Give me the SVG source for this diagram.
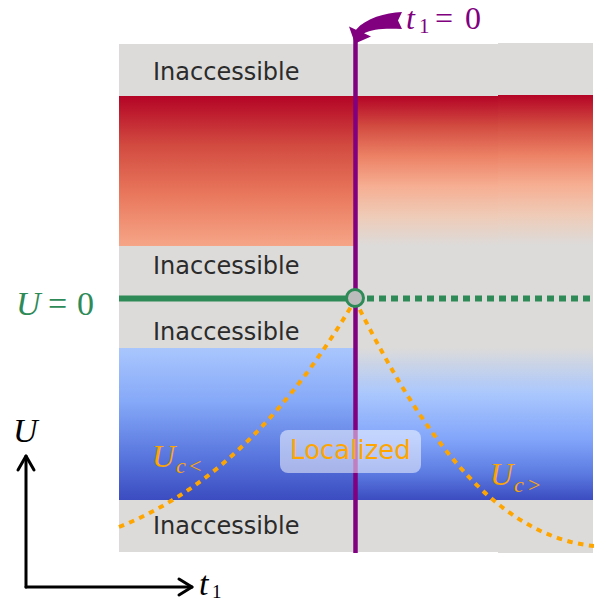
<svg xmlns="http://www.w3.org/2000/svg" width="594" height="603" viewBox="0 0 594 603">
<defs>
<linearGradient id="redL" x1="0" y1="0" x2="0" y2="1">
<stop offset="0" stop-color="#b40426"/>
<stop offset="0.33" stop-color="#d24b40"/>
<stop offset="0.66" stop-color="#e9785d"/>
<stop offset="1" stop-color="#f6a587"/>
</linearGradient>
<linearGradient id="redR" x1="0" y1="0" x2="0" y2="1">
<stop offset="0" stop-color="#b40426"/>
<stop offset="0.2" stop-color="#d24b40"/>
<stop offset="0.4" stop-color="#ec8165"/>
<stop offset="0.6" stop-color="#f6ae92"/>
<stop offset="0.8" stop-color="#efcbb7"/>
<stop offset="1" stop-color="#dcdbda"/>
</linearGradient>
<linearGradient id="blueL" x1="0" y1="0" x2="0" y2="1">
<stop offset="0" stop-color="#a9c6fd"/>
<stop offset="0.35" stop-color="#86a9f8"/>
<stop offset="0.7" stop-color="#5a78df"/>
<stop offset="1" stop-color="#3b4cc0"/>
</linearGradient>
<linearGradient id="blueR" x1="0" y1="0" x2="0" y2="1">
<stop offset="0" stop-color="#dcdbda"/>
<stop offset="0.3" stop-color="#aac7fd"/>
<stop offset="0.6" stop-color="#82a5fa"/>
<stop offset="0.82" stop-color="#5d7ce2"/>
<stop offset="1" stop-color="#3b4cc0"/>
</linearGradient>
</defs>
<style>
.inacc{font-family:"DejaVu Sans",sans-serif;font-size:24px;fill:#2b2b2b}
.math{font-family:"Liberation Serif","DejaVu Serif",serif;font-style:italic}
.num{font-family:"Liberation Serif","DejaVu Serif",serif;font-style:normal}
.orange{fill:#ffa500}
.ax{stroke:#000;stroke-width:3;fill:none;stroke-linecap:round;stroke-linejoin:round}
.curve{stroke:#ffa500;stroke-width:4;fill:none;stroke-dasharray:5.5 5.5}
</style>

<g id="background">
<rect x="119" y="44" width="379" height="508" fill="#dcdbda"/>
<rect x="498" y="43" width="95" height="510" fill="#dcdbda"/>
<rect x="119" y="96" width="236" height="150" fill="url(#redL)"/>
<rect x="355" y="96" width="143" height="150" fill="url(#redR)"/>
<rect x="498" y="95" width="95" height="150" fill="url(#redR)"/>
<rect x="119" y="348" width="236" height="152" fill="url(#blueL)"/>
<rect x="355" y="348" width="238" height="152" fill="url(#blueR)"/>
</g>

<g id="labels-inaccessible">
<text class="inacc" x="153" y="80">Inaccessible</text>
<text class="inacc" x="153" y="274">Inaccessible</text>
<text class="inacc" x="153" y="340">Inaccessible</text>
<text class="inacc" x="153" y="534">Inaccessible</text>
</g>

<g id="connectors">
<line x1="355.5" y1="36" x2="355.5" y2="553" stroke="#800080" stroke-width="4.5"/>
<path d="M402 12 C385 13 366 18 356 29.7 L349 26.5 L355 43.5 L371 36.5 L364 33.3 C372 29 385 28 402 29 L398 20.5 Z" fill="#800080"/>
<line x1="119" y1="298.5" x2="348" y2="298.5" stroke="#2e8b57" stroke-width="6"/>
<line x1="367" y1="298.5" x2="594" y2="298.5" stroke="#2e8b57" stroke-width="6" stroke-dasharray="7 5"/>
<path class="curve" d="M119 527 C219 487 295 402 355 300"/>
<path class="curve" d="M355 300 C410 410 484 535 594 546"/>
</g>

<g id="node-origin">
<circle cx="355" cy="298" r="8.5" fill="#bcbcbc" stroke="#2e8b57" stroke-width="3"/>
</g>

<g id="node-localized">
<rect x="280" y="430" width="141" height="43" rx="8" fill="#ffffff" fill-opacity="0.5"/>
<text x="350.5" y="459" text-anchor="middle" font-family="DejaVu Sans, sans-serif" font-size="26" fill="#ffa500">Localized</text>
</g>

<g id="label-t1" fill="#800080">
<text class="math" x="406" y="29" font-size="32">t</text>
<text class="num" x="419" y="33" font-size="21">1</text>
<text class="num" x="435" y="29" font-size="32">=</text>
<text class="num" x="465" y="29" font-size="32">0</text>
</g>

<g id="label-U0" fill="#2e8b57">
<text class="math" x="16" y="315" font-size="34">U</text>
<text class="num" x="48" y="315" font-size="34">=</text>
<text class="num" x="77" y="315" font-size="34">0</text>
</g>

<g id="label-Ucl" class="orange">
<text class="math" x="152" y="467" font-size="32">U</text>
<text class="math" x="176" y="473" font-size="22">c</text>
<text class="num" x="189" y="473" font-size="22">&lt;</text>
</g>

<g id="label-Ucg" class="orange">
<text class="math" x="490" y="485" font-size="32">U</text>
<text class="math" x="514" y="492" font-size="22">c</text>
<text class="num" x="528" y="492" font-size="22">&gt;</text>
</g>

<g id="axes">
<path class="ax" d="M26 587 L26 456"/>
<path class="ax" d="M18 470 L26 456 L34 470"/>
<path class="ax" d="M26 587 L192 587"/>
<path class="ax" d="M179 579 L192 587 L179 595"/>
<text class="math" x="13" y="442" font-size="34">U</text>
<text class="math" x="199" y="595" font-size="34">t</text>
<text class="num" x="212" y="598" font-size="19">1</text>
</g>
</svg>
